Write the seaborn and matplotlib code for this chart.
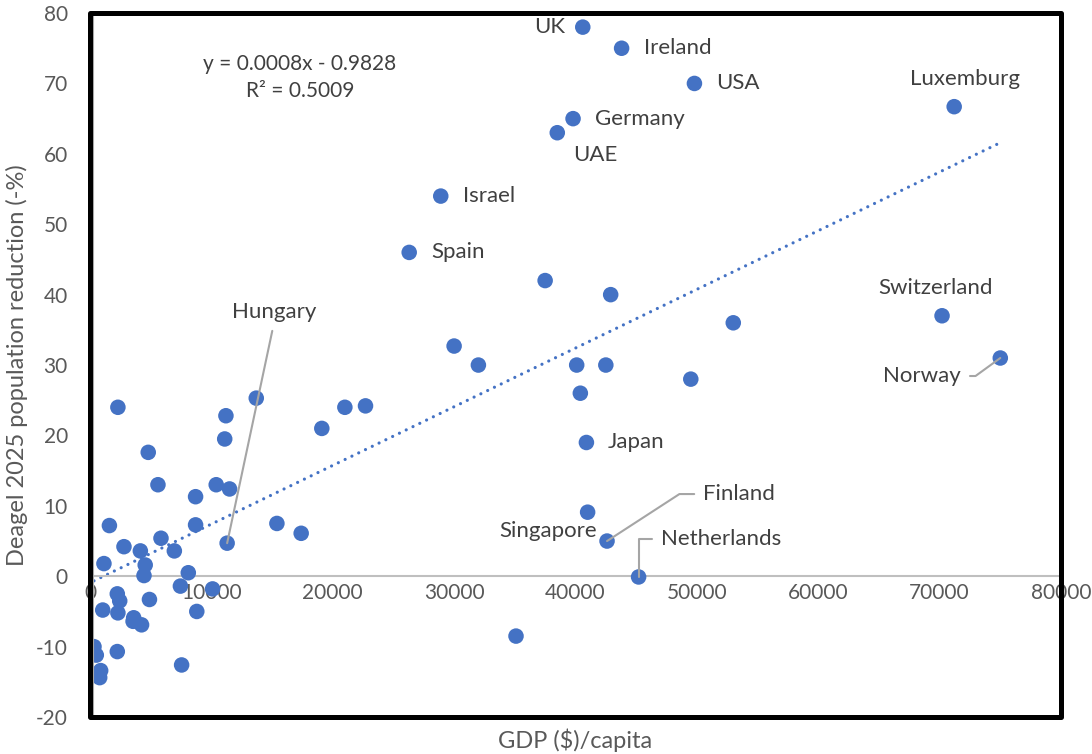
import matplotlib.pyplot as plt
import matplotlib.patches as patches
import numpy as np
import pandas as pd
import seaborn as sns

# GDP per capita ($) and Deagel 2025 population reduction (%)
names = ['UK', 'Ireland', 'USA', 'Germany', 'UAE', 'Israel', 'Spain', 'Luxemburg',
         'Switzerland', 'Norway', 'Japan', 'Singapore', 'Finland', 'Netherlands', 'Hungary']
gdp_named = [40600, 43800, 49800, 39800, 38500, 28900, 26300, 71200,
             70200, 75000, 40900, 41000, 42600, 45200, 11300]
red_named = [78, 75, 70, 65, 63, 54, 46, 66.7,
             37, 31, 19, 9.1, 5.0, -0.1, 4.7]

gdp_other = [37500, 42900, 30000, 32000, 40100, 42500, 40400, 49500, 53000,
             21000, 22700, 19100, 17400, 35100, 2300, 11200, 11100, 13700,
             4800, 5600, 10400, 11500, 8700, 1600, 8700, 15400, 5850, 2800,
             4150, 6950, 1150, 4550, 4450, 8100, 7450, 10100, 2250, 2450,
             4900, 1050, 2300, 8800, 3600, 3550, 4250, 330, 520, 2250,
             7550, 880, 800]
red_other = [42, 40, 32.7, 30, 30, 30, 26, 28, 36,
             24, 24.2, 21, 6.1, -8.5, 24, 22.8, 19.5, 25.3,
             17.6, 13, 13, 12.4, 11.3, 7.2, 7.3, 7.5, 5.4, 4.2,
             3.6, 3.6, 1.8, 1.6, 0.1, 0.5, -1.4, -1.8, -2.5, -3.5,
             -3.3, -4.8, -5.2, -5.0, -5.9, -6.4, -6.9, -10.0, -11.2, -10.7,
             -12.6, -13.4, -14.4]

x_ticks = [0, 10000, 20000, 30000, 40000, 50000, 60000, 70000, 80000]
y_ticks = [-20, -10, 0, 10, 20, 30, 40, 50, 60, 70, 80]

df = pd.DataFrame({
    'gdp': gdp_named + gdp_other,
    'reduction': red_named + red_other,
})

sns.set_style('white')
plt.rcParams['font.family'] = ['Lato', 'DejaVu Sans']

blue = '#4472C4'
grey_txt = '#595959'
label_txt = '#404040'
leader = '#A5A5A5'

fig = plt.figure(figsize=(10.92, 7.54), dpi=100)
ax = fig.add_axes([0.0824, 0.049, 0.8892, 0.9337])

sns.regplot(data=df, x='gdp', y='reduction', scatter=False, ci=None, ax=ax,
            line_kws=dict(color=blue, lw=2.3, ls=(0, (0.01, 2.35)),
                          dash_capstyle='round'))
sns.scatterplot(data=df, x='gdp', y='reduction', ax=ax, color=blue, s=125,
                edgecolor='none', zorder=3)

ax.set_xlim(0, 80000)
ax.set_ylim(-20, 80)
ax.set_xticks(x_ticks)
ax.set_yticks(y_ticks)
ax.set_xticklabels([str(t) for t in x_ticks])
ax.set_yticklabels([str(t) for t in y_ticks])
ax.tick_params(axis='x', length=0, pad=5, labelsize=15, labelcolor=grey_txt)
ax.tick_params(axis='y', length=0, pad=18, labelsize=15, labelcolor=grey_txt)

for s in ['top', 'right']:
    ax.spines[s].set_visible(False)
ax.spines['bottom'].set_position(('data', 0))
ax.spines['bottom'].set_color('#BFBFBF')
ax.spines['bottom'].set_linewidth(1.5)
ax.spines['left'].set_position(('outward', -2))
ax.spines['left'].set_color('#A6A6A6')
ax.spines['left'].set_linewidth(1.5)
ax.spines['left'].set_zorder(4)

frame = patches.Rectangle((0, 0), 1, 1, transform=ax.transAxes, fill=False,
                          ec='black', lw=3.6, clip_on=False, zorder=5,
                          joinstyle='round')
ax.add_patch(frame)

ax.set_xlabel('GDP ($)/capita', fontsize=17, color=grey_txt)
ax.set_ylabel('Deagel 2025 population reduction (-%)', fontsize=17, color=grey_txt)
ax.xaxis.set_label_coords(0.5, -0.016)
ax.yaxis.set_label_coords(-0.064, 0.5)

ax.text(0.216, 0.908, 'y = 0.0008x - 0.9828\nR² = 0.5009', transform=ax.transAxes,
        ha='center', va='center', multialignment='center', fontsize=15,
        color=label_txt, linespacing=1.45)

# label offsets in pixels, alignment and optional leader-line style
label_style = {
    'UK': ((-18, 0), 'right', None),
    'Ireland': ((22, 0), 'left', None),
    'USA': ((22, 0), 'left', None),
    'Germany': ((22, 0), 'left', None),
    'UAE': ((16, -22), 'left', None),
    'Israel': ((22, 0), 'left', None),
    'Spain': ((22, 0), 'left', None),
    'Luxemburg': ((11, 28), 'center', None),
    'Switzerland': ((-6, 28), 'center', None),
    'Norway': ((-78, -18), 'center', ('angle,angleA=0,angleB=36,rad=0', (1, 0.5))),
    'Japan': ((21, 0), 'left', None),
    'Singapore': ((-40, -19), 'center', None),
    'Finland': ((96, 47), 'left', ('angle,angleA=0,angleB=33,rad=0', (0, 0.5))),
    'Netherlands': ((22, 38), 'left', ('angle,angleA=0,angleB=90,rad=0', (0, 0.5))),
    'Hungary': ((47, 231), 'center', ('arc3,rad=0', (0.5, 0))),
}

for name, gx, ry in zip(names, gdp_named, red_named):
    off, ha, lead = label_style[name]
    kw = {}
    if lead is not None:
        kw['arrowprops'] = dict(arrowstyle='-', color=leader, lw=1.5,
                                connectionstyle=lead[0], relpos=lead[1],
                                shrinkA=4, shrinkB=0)
    ax.annotate(name, (gx, ry), xytext=off, textcoords='offset pixels',
                ha=ha, va='center', fontsize=16, color=label_txt, **kw)

fig.savefig('out.png', dpi=100)
